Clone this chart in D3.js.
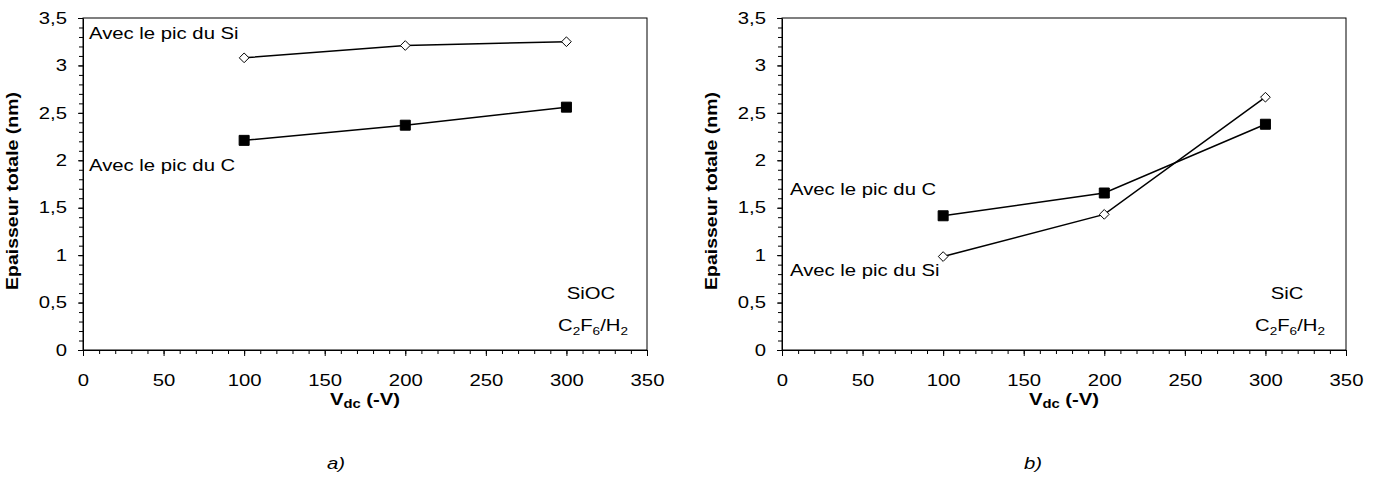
<!DOCTYPE html>
<html><head><meta charset="utf-8">
<script src="https://cdn.jsdelivr.net/npm/d3@7"></script>
<style>
body{margin:0;background:#fff;}
text{font-family:"Liberation Sans",Arial,sans-serif;fill:#000;}
</style></head>
<body>
<svg id="c" width="1380" height="486"></svg>
<script>
const voltages = [100, 200, 300];
const siocSi = [3.08, 3.21, 3.25];
const siocC = [2.21, 2.37, 2.56];
const sicSi = [0.985, 1.43, 2.665];
const sicC = [1.415, 1.655, 2.38];
const xTicks = [0, 50, 100, 150, 200, 250, 300, 350];
const yTicks = [0, 0.5, 1, 1.5, 2, 2.5, 3, 3.5];
const yLabel = "Epaisseur totale (nm)";

const FS = 16.5, KX = 1.23;
const svg = d3.select("#c");
const fmt = d => String(d).replace(".", ",");

// glyph-space horizontal stretch to mimic the wide font of the reference
function stretch(sel, k) {
  sel.each(function() {
    const t = d3.select(this);
    const x = +(t.attr("x") || 0), y = +(t.attr("y") || 0);
    const prev = t.attr("transform") || "";
    t.attr("x", 0).attr("y", 0).attr("transform", `${prev} translate(${x},${y}) scale(${k},1)`);
  });
}

function panel(opts) {
  const g = svg.append("g");
  const x = d3.scaleLinear().domain([0, 350]).range([opts.x0, opts.x0 + 564]);
  const y = d3.scaleLinear().domain([0, 3.5]).range([350, 18]);
  g.append("rect").attr("x", x(0)).attr("y", y(3.5)).attr("width", x(350) - x(0)).attr("height", y(0) - y(3.5))
    .attr("fill", "none").attr("stroke", "#000").attr("stroke-width", 1);
  g.append("g").attr("transform", `translate(0,${y(0)})`)
    .call(d3.axisBottom(x).tickValues(d3.range(0, 351, 10)).tickSize(4).tickFormat(""))
    .call(a => a.select(".domain").remove());
  g.append("g").attr("transform", `translate(${x(0)},0)`)
    .call(d3.axisLeft(y).tickValues(d3.range(0, 36).map(d => d / 10)).tickSize(4).tickFormat(""))
    .call(a => a.select(".domain").remove());
  const xa = g.append("g").attr("transform", `translate(0,${y(0)})`)
    .call(d3.axisBottom(x).tickValues(xTicks).tickSize(6).tickSizeOuter(0).tickPadding(18));
  const ya = g.append("g").attr("transform", `translate(${x(0)},0)`)
    .call(d3.axisLeft(y).tickValues(yTicks).tickSize(5).tickSizeOuter(0).tickPadding(11).tickFormat(fmt));
  [xa, ya].forEach(a => {
    a.attr("font-size", null).attr("font-family", null);
    a.selectAll("text").attr("font-size", FS).attr("fill", "#000");
    a.selectAll("line,path").attr("stroke", "#000");
    stretch(a.selectAll("text"), KX);
  });
  g.selectAll(".tick line").attr("stroke", "#000");

  const yt = g.append("text").attr("transform", `translate(${opts.x0 - 65},${191}) rotate(-90)`)
    .attr("text-anchor", "middle").attr("font-weight", "bold").attr("font-size", 16.5).text(yLabel);
  stretch(yt, 1.18);
  const xt = g.append("text").attr("x", (x(0) + x(350)) / 2).attr("y", 405)
    .attr("text-anchor", "middle").attr("font-weight", "bold").attr("font-size", FS);
  xt.append("tspan").text("V");
  xt.append("tspan").attr("font-size", 12).attr("dy", 3).text("dc");
  xt.append("tspan").attr("dy", -3).text(" (-V)");
  stretch(xt, KX);

  const line = d3.line().x((d, i) => x(voltages[i])).y(d => y(d));
  opts.series.forEach(s => {
    g.append("path").datum(s.values).attr("d", line).attr("fill", "none").attr("stroke", "#000").attr("stroke-width", 1.5);
    const sym = s.marker === "square" ? d3.symbol(d3.symbolSquare, 100) : d3.symbol(d3.symbolDiamond2, 60);
    g.selectAll(null).data(s.values).enter().append("path")
      .attr("d", sym)
      .attr("transform", (d, i) => `translate(${x(voltages[i])},${y(d)})`)
      .attr("fill", s.marker === "square" ? "#000" : "#fff")
      .attr("stroke", "#000").attr("stroke-width", 1);
    const lt = g.append("text").attr("x", opts.x0 + s.lx).attr("y", s.ly).attr("font-size", FS).text(s.label);
    stretch(lt, KX);
  });
  const mt = g.append("text").attr("x", opts.x0 + opts.matX).attr("y", 299).attr("text-anchor", "middle").attr("font-size", FS).text(opts.material);
  stretch(mt, KX);
  const ct = g.append("text").attr("x", opts.x0 + opts.gasX).attr("y", 331).attr("text-anchor", "middle").attr("font-size", FS);
  ct.append("tspan").text("C");
  ct.append("tspan").attr("font-size", 11).attr("dy", 4).text("2");
  ct.append("tspan").attr("dy", -4).text("F");
  ct.append("tspan").attr("font-size", 11).attr("dy", 4).text("6");
  ct.append("tspan").attr("dy", -4).text("/H");
  ct.append("tspan").attr("font-size", 11).attr("dy", 4).text("2");
  stretch(ct, KX);
  const lt = g.append("text").attr("x", opts.letterX).attr("y", 469).attr("text-anchor", "middle").attr("font-size", FS).attr("font-style", "italic").text(opts.letter);
  stretch(lt, KX);
}

panel({
  x0: 83, material: "SiOC", matX: 508, gasX: 510, letter: "a)", letterX: 336,
  series: [
    {values: siocSi, marker: "diamond", label: "Avec le pic du Si", lx: 6, ly: 39},
    {values: siocC, marker: "square", label: "Avec le pic du C", lx: 6, ly: 171}
  ]
});
panel({
  x0: 782, material: "SiC", matX: 505, gasX: 508, letter: "b)", letterX: 1033,
  series: [
    {values: sicC, marker: "square", label: "Avec le pic du C", lx: 8, ly: 195},
    {values: sicSi, marker: "diamond", label: "Avec le pic du Si", lx: 8, ly: 276}
  ]
});
</script>
</body></html>
